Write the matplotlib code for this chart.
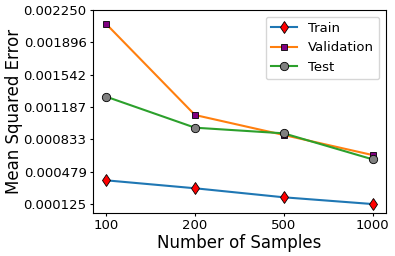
import matplotlib
matplotlib.use("Agg")
import matplotlib.pyplot as plt
import numpy as np

samples = ["100", "200", "500", "1000"]
train = [0.000383, 0.000296, 0.000197, 0.000123]
validation = [0.002097, 0.001099, 0.000880, 0.000660]
test = [0.001300, 0.000960, 0.000898, 0.000613]

fig, ax = plt.subplots(figsize=(3.95, 2.56), dpi=100)
x = np.arange(len(samples))
ax.plot(x, train, color="C0", marker="d", markerfacecolor="red",
        markeredgecolor="black", markeredgewidth=0.6, markersize=6, label="Train")
ax.plot(x, validation, color="C1", marker="s", markerfacecolor="purple",
        markeredgecolor="black", markeredgewidth=0.6, markersize=5, label="Validation")
ax.plot(x, test, color="C2", marker="o", markerfacecolor="gray",
        markeredgecolor="black", markeredgewidth=0.6, markersize=6, label="Test")

yt = np.linspace(0.000125, 0.00225, 7)
ax.set_yticks(yt)
ax.set_yticklabels(["%.6f" % v for v in yt])
ax.set_ylim(0.000025, 0.00225)
ax.set_xticks(x)
ax.set_xticklabels(samples)
ax.tick_params(labelsize=9.5, length=2.5, pad=2)
ax.set_xlabel("Number of Samples", fontsize=12, labelpad=1)
ax.set_ylabel("Mean Squared Error", fontsize=12, labelpad=0.5)
ax.legend(fontsize=9.5, loc="upper right")

fig.subplots_adjust(left=0.235, right=0.977, top=0.961, bottom=0.168)
fig.savefig("out.png")
